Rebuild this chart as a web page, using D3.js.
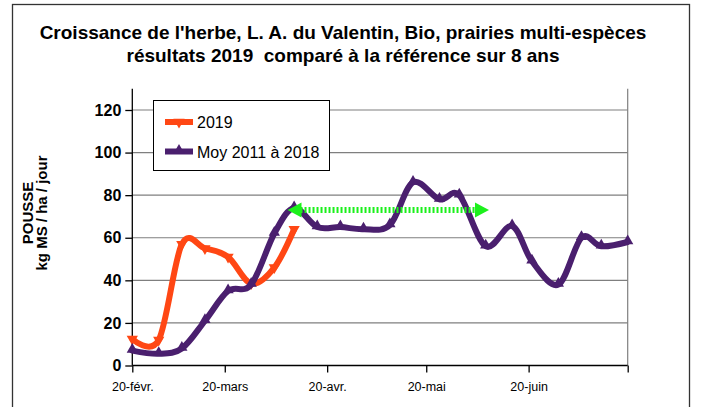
<!DOCTYPE html>
<html><head><meta charset="utf-8">
<script src="https://cdn.jsdelivr.net/npm/d3@7/dist/d3.min.js"></script>
<style>body{margin:0;background:#fff;overflow:hidden}text{font-family:"Liberation Sans",Arial,sans-serif}</style>
</head><body>
<svg id="c" width="704" height="407"></svg>
<script>
const titleLines = ["Croissance de l'herbe, L. A. du Valentin, Bio, prairies multi-espèces", "résultats 2019  comparé à la référence sur 8 ans"];
const yTitle = ["POUSSE", "kg MS / ha / jour"];
const seriesNames = ["2019", "Moy 2011 à 2018"];
const dates = ["2019-02-20","2019-02-28","2019-03-07","2019-03-14","2019-03-21","2019-03-28","2019-04-04","2019-04-10","2019-04-17","2019-04-24","2019-05-01","2019-05-09","2019-05-16","2019-05-24","2019-05-30","2019-06-07","2019-06-15","2019-06-21","2019-06-29","2019-07-06","2019-07-12","2019-07-20"];
const values2019 = [12.5, 12, 57, 55, 51, 38.5, 46, 64];
const valuesMoy = [7, 5.5, 8, 21, 35, 38, 62, 74, 65, 65, 64, 66, 86, 78, 80, 56, 65.5, 49, 38, 60, 56, 58];
const yTicks = [0, 20, 40, 60, 80, 100, 120];
const yDomain = [0, 130];
const xDomain = ["2019-02-20", "2019-07-20"];
const xTickDates = ["2019-02-20","2019-03-20","2019-04-20","2019-05-20","2019-06-20","2019-07-20"];
const xTickLabels = ["20-févr.","20-mars","20-avr.","20-mai","20-juin",""];
const arrowDates = ["2019-04-08","2019-06-08"];
const arrowValue = 73;

const parse = d3.utcParse("%Y-%m-%d");
const svg = d3.select("#c");
const L = 132.3, R = 627.7, T = 88.7, B = 365.5;
const x = d3.scaleUtc().domain(xDomain.map(parse)).range([L, R]);
const y = d3.scaleLinear().domain(yDomain).range([B, T]);
const COL19 = "#ff4714", COLMOY = "#4a1f6e", GREEN = "#1cf01c";

// outer border
svg.append("rect").attr("x", 12.5).attr("y", 4.5).attr("width", 677).attr("height", 420)
  .attr("fill", "none").attr("stroke", "#333").attr("stroke-width", 1.3);

// title
const tt = svg.append("text").attr("text-anchor", "middle").attr("font-weight", "bold").attr("font-size", 19)
  .attr("fill", "#000").style("white-space", "pre");
titleLines.forEach((t, i) => tt.append("tspan").attr("x", 343).attr("y", 39 + i * 23).text(t));

// y title
const yt = svg.append("text").attr("transform", "translate(0,213) rotate(-90)").attr("text-anchor", "middle")
  .attr("font-weight", "bold").attr("font-size", 15).attr("fill", "#000");
yTitle.forEach((t, i) => yt.append("tspan").attr("x", 0).attr("y", 32.5 + i * 14.5).text(t));

// gridlines
svg.append("g").selectAll("line").data(yTicks.filter(d => d > 0)).join("line")
  .attr("x1", L).attr("x2", R).attr("y1", d => y(d)).attr("y2", d => y(d))
  .attr("stroke", "#7f7f7f").attr("stroke-width", 1.2);
// right border of plot
svg.append("line").attr("x1", R).attr("x2", R).attr("y1", T).attr("y2", B).attr("stroke", "#7f7f7f").attr("stroke-width", 1.2);

// y axis
const ya = svg.append("g").attr("transform", `translate(${L},0)`)
  .call(d3.axisLeft(y).tickValues(yTicks).tickSize(7).tickPadding(4).tickFormat(d3.format("d")));
ya.select(".domain").attr("stroke", "#000").attr("stroke-width", 1.3).attr("d", `M0,${T}V${B}`);
ya.selectAll(".tick line").attr("stroke", "#000").attr("stroke-width", 1.3);
ya.selectAll(".tick text").attr("font-size", 16).attr("font-weight", "bold").attr("fill", "#000")
  .attr("font-family", "'Liberation Sans', Arial, sans-serif");

// x axis
const xa = svg.append("g").attr("transform", `translate(0,${B})`)
  .call(d3.axisBottom(x).tickValues(xTickDates.map(parse)).tickSize(7).tickPadding(8)
    .tickFormat((d, i) => xTickLabels[i]));
xa.select(".domain").attr("stroke", "#000").attr("stroke-width", 1.3).attr("d", `M${L},0H${R}`);
xa.selectAll(".tick line").attr("stroke", "#000").attr("stroke-width", 1.3);
xa.selectAll(".tick text").attr("font-size", 12.5).attr("fill", "#000").attr("dy", "0.85em")
  .attr("font-family", "'Liberation Sans Narrow', 'Liberation Sans', Arial, sans-serif");

// series
const d19 = values2019.map((v, i) => ({ d: parse(dates[i]), v }));
const dMoy = valuesMoy.map((v, i) => ({ d: parse(dates[i]), v }));
const line = d3.line().x(p => x(p.d)).y(p => y(p.v)).curve(d3.curveCardinal.tension(0));

svg.append("path").datum(d19).attr("d", line).attr("fill", "none").attr("stroke", COL19)
  .attr("stroke-width", 6).attr("stroke-linejoin", "round").attr("stroke-linecap", "round");
const tri = d3.symbol().type(d3.symbolTriangle).size(55);
svg.append("g").selectAll("path").data(d19).join("path").attr("d", tri)
  .attr("transform", p => `translate(${x(p.d)},${y(p.v)}) rotate(180)`).attr("fill", COL19);

svg.append("path").datum(dMoy).attr("d", line).attr("fill", "none").attr("stroke", COLMOY)
  .attr("stroke-width", 6).attr("stroke-linejoin", "round").attr("stroke-linecap", "round");
svg.append("g").selectAll("path").data(dMoy).join("path").attr("d", d3.symbol().type(d3.symbolTriangle).size(55))
  .attr("transform", p => `translate(${x(p.d)},${y(p.v) - 1})`).attr("fill", COLMOY);

// green double arrow
const ax0 = x(parse(arrowDates[0])), ax1 = x(parse(arrowDates[1])), ay = y(arrowValue);
const head = 14, hw = 7.5;
svg.append("line").attr("x1", ax0 + head - 1).attr("x2", ax1 - head + 1).attr("y1", ay).attr("y2", ay)
  .attr("stroke", GREEN).attr("stroke-width", 6).attr("stroke-dasharray", "2,2");
svg.append("path").attr("d", `M${ax0},${ay}L${ax0 + head},${ay - hw}L${ax0 + head},${ay + hw}Z`).attr("fill", GREEN);
svg.append("path").attr("d", `M${ax1},${ay}L${ax1 - head},${ay - hw}L${ax1 - head},${ay + hw}Z`).attr("fill", GREEN);

// legend
const lg = svg.append("g");
lg.append("rect").attr("x", 153.5).attr("y", 100.5).attr("width", 176).attr("height", 70)
  .attr("fill", "#fff").attr("stroke", "#000").attr("stroke-width", 1);
[COL19, COLMOY].forEach((c, i) => {
  const yy = 122 + i * 29.5;
  lg.append("line").attr("x1", 165).attr("x2", 193).attr("y1", yy).attr("y2", yy).attr("stroke", c).attr("stroke-width", 6);
  lg.append("path").attr("d", tri).attr("fill", c)
    .attr("transform", i === 0 ? `translate(179,${yy}) rotate(180)` : `translate(179,${yy - 1})`);
  lg.append("text").attr("x", 197).attr("y", yy + 6).attr("font-size", 16).attr("fill", "#000").text(seriesNames[i]);
});
</script>
</body></html>
